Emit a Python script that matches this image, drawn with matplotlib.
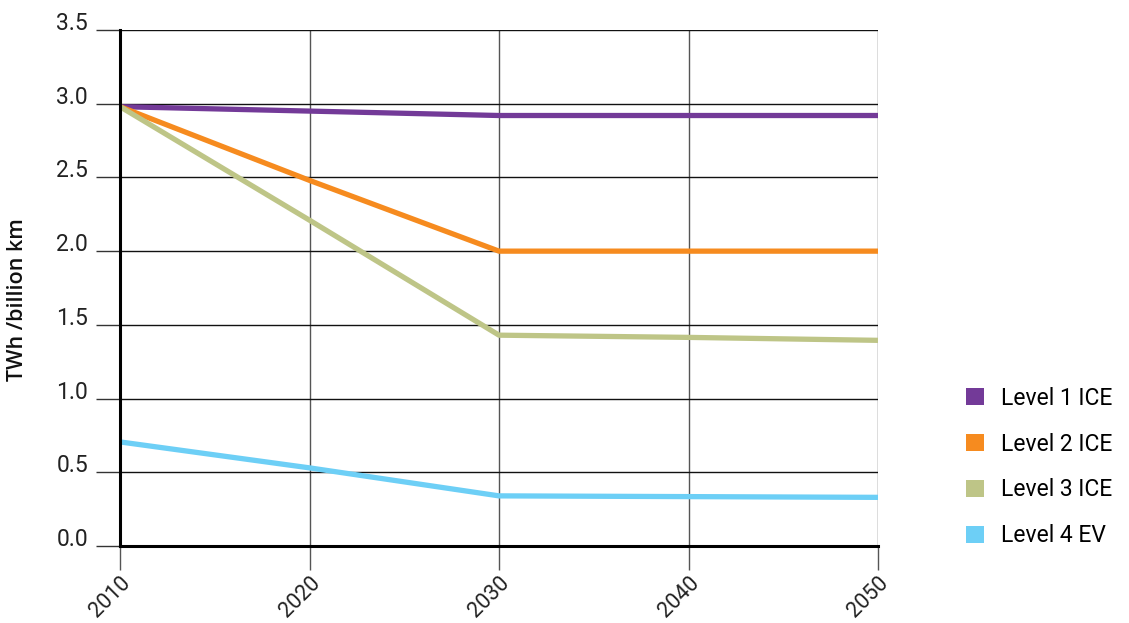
import matplotlib
matplotlib.use("Agg")
import matplotlib.pyplot as plt
from matplotlib.patches import Patch

years = [2010, 2020, 2030, 2040, 2050]
series_names = ["Level 1 ICE", "Level 2 ICE", "Level 3 ICE", "Level 4 EV"]
level1 = [2.98, 2.95, 2.92, 2.92, 2.92]
level2 = [2.98, 2.48, 2.00, 2.00, 2.00]
level3 = [2.98, 2.21, 1.43, 1.415, 1.395]
level4 = [0.706, 0.53, 0.34, 0.335, 0.33]
colors = ["#733A98", "#F68B1F", "#BEC587", "#6DCFF6"]
yticks = [0.0, 0.5, 1.0, 1.5, 2.0, 2.5, 3.0, 3.5]

plt.rcParams['font.family'] = ['Roboto', 'DejaVu Sans']

fig = plt.figure(figsize=(11.29, 6.23), dpi=100)
ax = fig.add_axes([120/1129, (623-546)/623, (878-120)/1129, (546-30)/623])

for vals, col, name in zip([level1, level2, level3, level4], colors, series_names):
    ax.plot(years, vals, color=col, lw=3.8, solid_capstyle='butt', zorder=3, label=name)

ax.set_xlim(2010, 2050)
ax.set_ylim(0, 3.5)
ax.set_xticks(years)
ax.set_xticklabels([str(y) for y in years], rotation=45, ha='right', va='top',
                   rotation_mode='anchor', fontsize=15.5, color='#222222')
ax.set_yticks(yticks)
ax.set_yticklabels([f"{v:.1f}" for v in yticks], fontsize=16.5, color='#222222',
                   va='baseline')

ax.grid(True, axis='x', color='#555555', lw=1.0, zorder=1)
ax.grid(True, axis='y', color='#111111', lw=1.0, zorder=1)
ax.tick_params(axis='y', length=17, width=1.0, color='#333333', pad=6)
ax.tick_params(axis='x', length=17, width=1.0, color='#555555', pad=2)

for s in ['top', 'right']:
    ax.spines[s].set_visible(False)
ax.spines['left'].set_linewidth(2.2)
ax.spines['bottom'].set_linewidth(2.2)
ax.spines['left'].set_zorder(4)
ax.spines['bottom'].set_zorder(4)

fig.text(18/1129, 1 - 300/623, "TWh /billion km", rotation=90, ha='center', va='center',
         fontsize=15.5, fontweight='semibold', color='#111111',
         family=['Open Sans', 'DejaVu Sans'])

handles = [Patch(facecolor=c, edgecolor='none') for c in colors]
fig.legend(handles, series_names, loc='center left', bbox_to_anchor=(955/1129, 1 - 467/623),
           frameon=False, fontsize=16.5, handlelength=0.75, handleheight=0.75,
           labelspacing=1.0, handletextpad=0.75, borderpad=0)

fig.savefig("out.png", dpi=100)
